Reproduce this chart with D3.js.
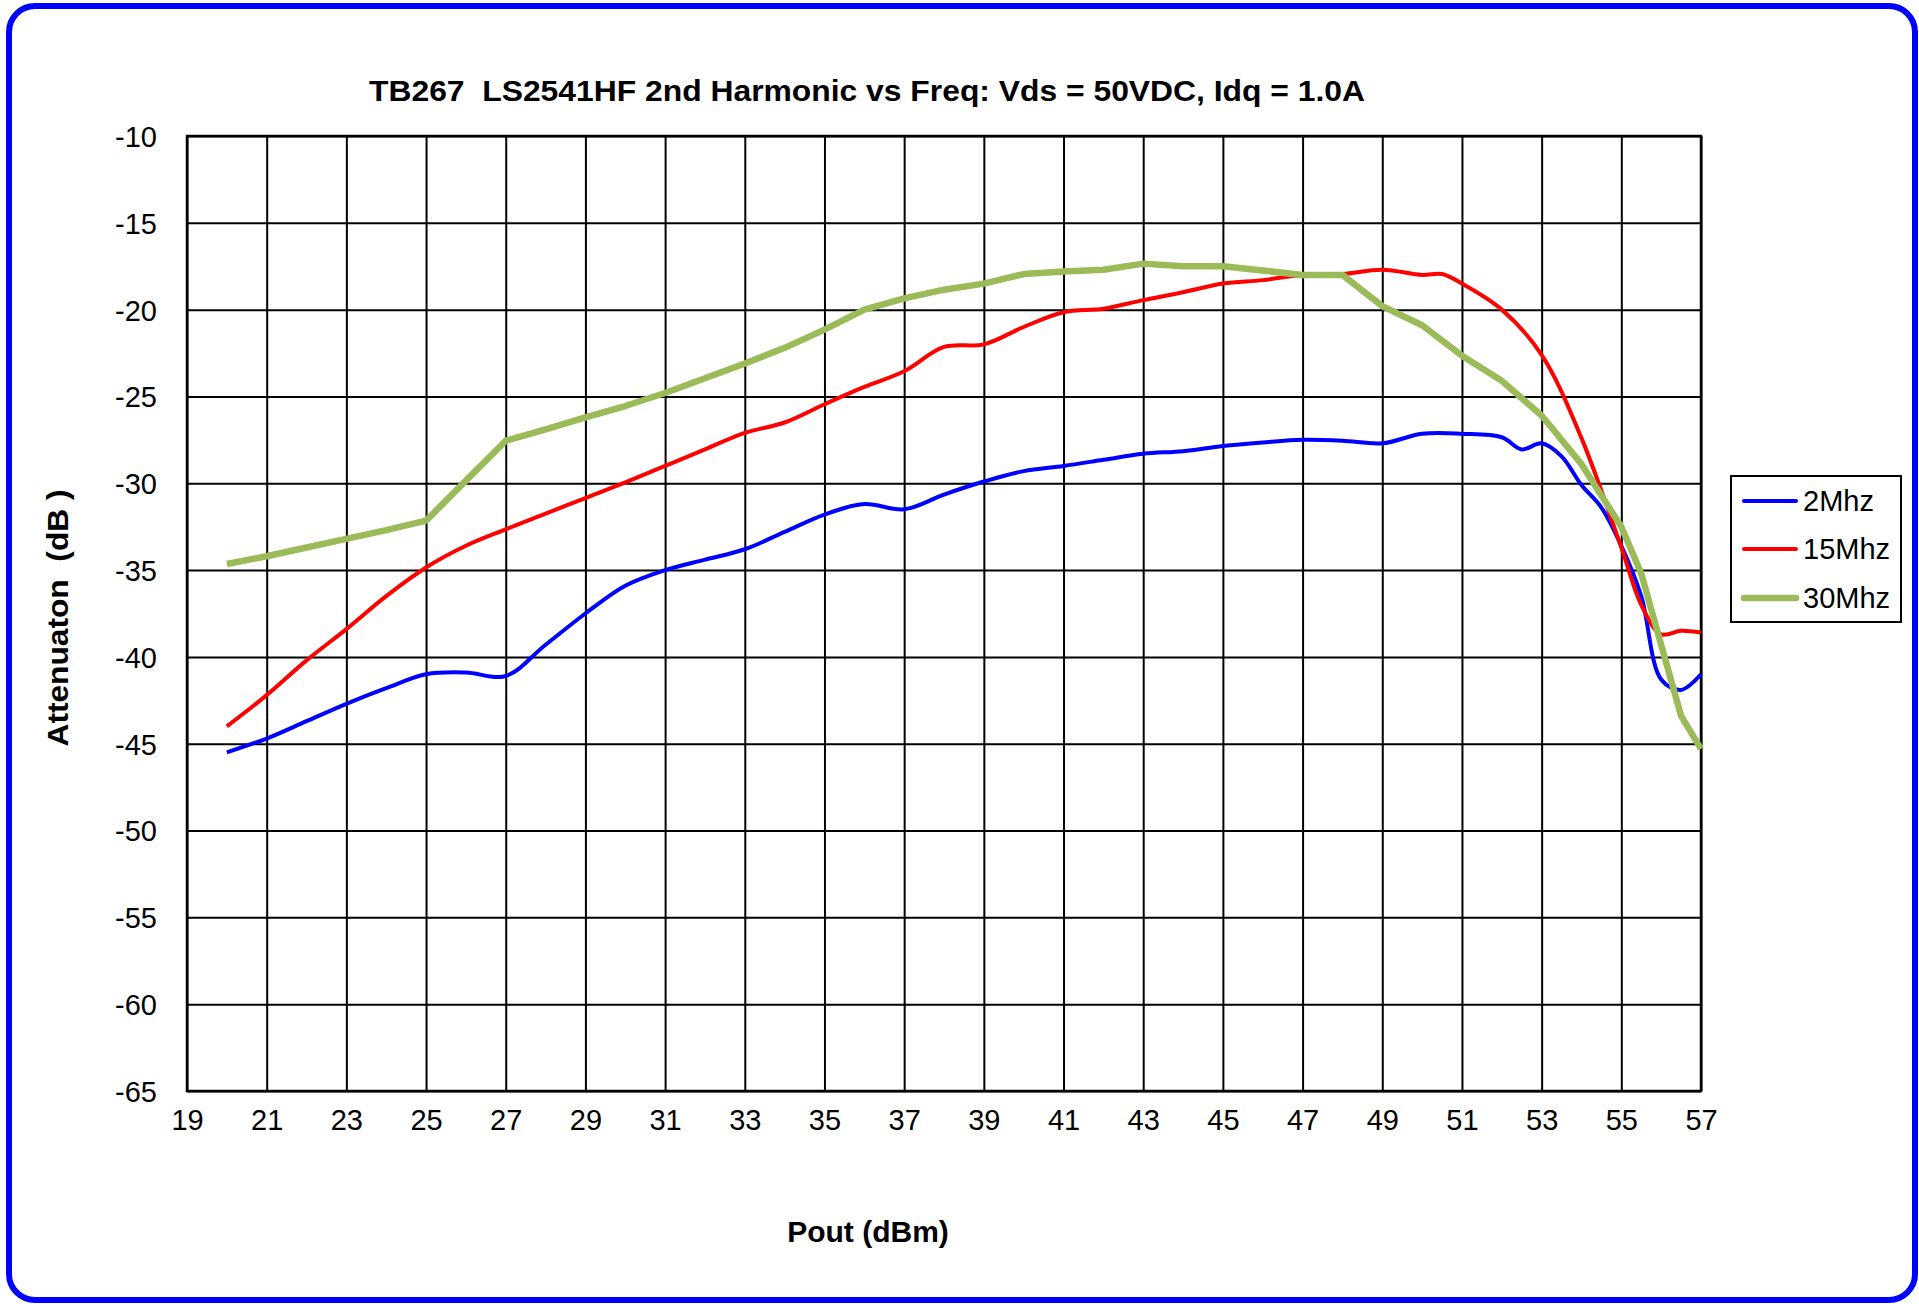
<!DOCTYPE html>
<html>
<head>
<meta charset="utf-8">
<script src="https://cdn.jsdelivr.net/npm/d3@7"></script>
<style>
  html, body { margin: 0; padding: 0; background: #fff; }
  svg { display: block; font-family: "Liberation Sans", Arial, sans-serif; }
  text { white-space: pre; }
</style>
</head>
<body>
<svg id="chart" width="1919" height="1304"></svg>
<script>
// ---------- data ----------
const titleText = "TB267  LS2541HF 2nd Harmonic vs Freq: Vds = 50VDC, Idq = 1.0A";
const xLabel = "Pout (dBm)";
const yLabel = "Attenuaton  (dB )";
const xTicks = [19,21,23,25,27,29,31,33,35,37,39,41,43,45,47,49,51,53,55,57];
const yTicks = [-10,-15,-20,-25,-30,-35,-40,-45,-50,-55,-60,-65];
const seriesNames = ["2Mhz", "15Mhz", "30Mhz"];

const x2Mhz = [20,21,22,23,24,25,26,27,28,29,30,31,32,33,34,35,36,37,38,39,40,41,42,43,44,45,46,47,48,49,50,51,52,52.5,53,53.5,54,54.5,55,55.5,56,56.5,57];
const y2Mhz = [-45.5,-44.7,-43.7,-42.7,-41.8,-41.0,-40.9,-41.1,-39.3,-37.5,-35.9,-35.0,-34.4,-33.8,-32.8,-31.8,-31.2,-31.5,-30.65,-29.9,-29.3,-29.0,-28.65,-28.3,-28.15,-27.85,-27.65,-27.5,-27.55,-27.7,-27.15,-27.15,-27.35,-28.05,-27.7,-28.45,-30.1,-31.4,-33.6,-36.5,-41.3,-41.9,-41.0];

const x15Mhz = [20,21,22,23,24,25,26,27,28,29,30,31,32,33,34,35,36,37,38,39,40,41,42,43,44,45,46,47,48,49,50,50.5,51,52,53,54,55,55.5,56,56.5,57];
const y15Mhz = [-44.0,-42.2,-40.2,-38.4,-36.5,-34.85,-33.6,-32.65,-31.75,-30.85,-29.95,-29.0,-28.05,-27.1,-26.5,-25.45,-24.45,-23.55,-22.15,-22.0,-21.0,-20.15,-19.95,-19.45,-19.0,-18.5,-18.3,-18.0,-17.95,-17.7,-18.0,-17.95,-18.5,-20.0,-22.6,-27.4,-33.7,-37.0,-38.7,-38.5,-38.6];

const x30Mhz = [20,21,22,23,24,25,26,27,28,29,30,31,32,33,34,35,36,37,38,39,40,41,42,43,44,45,46,47,48,49,50,51,52,53,54,55,55.5,56.5,57];
const y30Mhz = [-34.65,-34.2,-33.7,-33.2,-32.7,-32.15,-29.85,-27.55,-26.9,-26.2,-25.55,-24.8,-23.95,-23.1,-22.2,-21.15,-20.0,-19.35,-18.85,-18.5,-17.95,-17.8,-17.7,-17.35,-17.5,-17.5,-17.75,-18.0,-18.0,-19.8,-20.9,-22.65,-24.1,-26.1,-28.9,-32.5,-35.2,-43.4,-45.3];

const seriesColors = ["#0000FF", "#FF0000", "#9BBB59"];

// ---------- layout ----------
const svg = d3.select("#chart");
const W = 1919, H = 1304;
const plot = { left: 187, right: 1701, top: 136, bottom: 1091 };

svg.append("rect").attr("x", 0).attr("y", 0).attr("width", W).attr("height", H).attr("fill", "#fff");
// outer blue rounded border
svg.append("rect")
  .attr("x", 9).attr("y", 6).attr("width", 1906).attr("height", 1294)
  .attr("rx", 26).attr("ry", 26)
  .attr("fill", "#fff").attr("stroke", "#0000FF").attr("stroke-width", 6);

const x = d3.scaleLinear().domain([19, 57]).range([plot.left, plot.right]);
const y = d3.scaleLinear().domain([-65, -10]).range([plot.bottom, plot.top]);

const fmt = d => String(d);

// gridlines via axes
const gx = svg.append("g").attr("transform", `translate(0,${plot.bottom})`)
  .call(d3.axisBottom(x).tickValues(xTicks).tickSize(-(plot.bottom - plot.top)).tickFormat(fmt).tickPadding(18));
const gy = svg.append("g").attr("transform", `translate(${plot.left},0)`)
  .call(d3.axisLeft(y).tickValues(yTicks).tickSize(-(plot.right - plot.left)).tickFormat(fmt).tickPadding(30));

[gx, gy].forEach(g => {
  g.select(".domain").remove();
  g.selectAll(".tick line").attr("stroke", "#000").attr("stroke-width", 2);
  g.selectAll(".tick text").attr("fill", "#000").attr("font-size", 29)
    .attr("font-family", "'Liberation Sans', Arial, sans-serif");
});
gx.selectAll(".tick text").attr("dy", "0.71em");
gy.selectAll(".tick text").attr("dy", "0.36em");

// plot frame
svg.append("rect").attr("x", plot.left).attr("y", plot.top)
  .attr("width", plot.right - plot.left).attr("height", plot.bottom - plot.top)
  .attr("fill", "none").attr("stroke", "#000").attr("stroke-width", 2.5);

// lines
const series = [
  { name: seriesNames[0], xs: x2Mhz, ys: y2Mhz, color: seriesColors[0], width: 4, curve: d3.curveCatmullRom },
  { name: seriesNames[1], xs: x15Mhz, ys: y15Mhz, color: seriesColors[1], width: 4, curve: d3.curveCatmullRom },
  { name: seriesNames[2], xs: x30Mhz, ys: y30Mhz, color: seriesColors[2], width: 6.5, curve: d3.curveLinear }
];
series.forEach(s => {
  const pts = s.xs.map((v, i) => [v, s.ys[i]]);
  const line = d3.line().x(d => x(d[0])).y(d => y(d[1])).curve(s.curve);
  svg.append("path").datum(pts)
    .attr("d", line).attr("fill", "none")
    .attr("stroke", s.color).attr("stroke-width", s.width)
    .attr("stroke-linejoin", "round").attr("stroke-linecap", "butt");
});

// title
svg.append("text").attr("x", 867).attr("y", 101).attr("text-anchor", "middle")
  .attr("font-size", 29).attr("font-weight", "bold")
  .attr("textLength", 996).attr("lengthAdjust", "spacingAndGlyphs")
  .text(titleText);

// x axis label
svg.append("text").attr("x", 868).attr("y", 1242).attr("text-anchor", "middle")
  .attr("font-size", 30).attr("font-weight", "bold")
  .text(xLabel);

// y axis label
svg.append("text").attr("transform", "translate(68,618) rotate(-90)")
  .attr("text-anchor", "middle")
  .attr("font-size", 30).attr("font-weight", "bold")
  .attr("textLength", 257).attr("lengthAdjust", "spacingAndGlyphs")
  .text(yLabel);

// legend
const leg = { x: 1731, y: 476, w: 170, h: 146 };
svg.append("rect").attr("x", leg.x).attr("y", leg.y).attr("width", leg.w).attr("height", leg.h)
  .attr("fill", "#fff").attr("stroke", "#000").attr("stroke-width", 2);
const legY = [501, 549, 598];
series.forEach((s, i) => {
  svg.append("line").attr("x1", 1744).attr("x2", 1796).attr("y1", legY[i]).attr("y2", legY[i])
    .attr("stroke", s.color).attr("stroke-width", s.width).attr("stroke-linecap", "round");
  svg.append("text").attr("x", 1803).attr("y", legY[i]).attr("dy", "0.36em")
    .attr("font-size", 29).text(s.name);
});
</script>
</body>
</html>
